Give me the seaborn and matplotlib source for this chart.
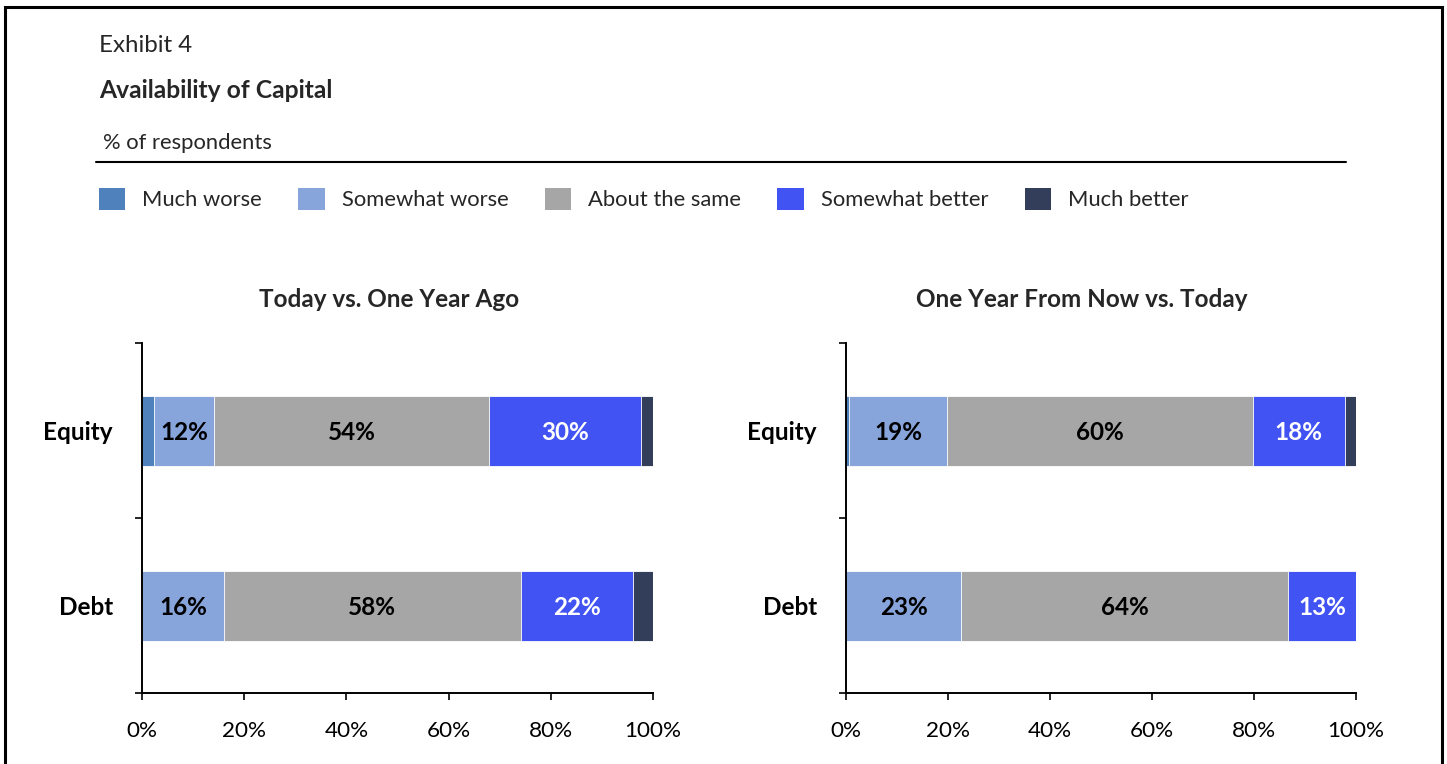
import matplotlib as mpl
import matplotlib.pyplot as plt
import numpy as np
import seaborn as sns
from matplotlib.patches import Patch, Rectangle

categories = ["Equity", "Debt"]
series = ["Much worse", "Somewhat worse", "About the same", "Somewhat better", "Much better"]
colors = ["#4F81BD", "#87A5DB", "#A6A6A6", "#4153F2", "#323E5A"]
label_colors = ["white", "black", "black", "white", "white"]

# Today vs. One Year Ago (Equity, Debt)
past_much_worse = [2.4, 0.0]
past_somewhat_worse = [11.6, 16.0]
past_same = [54.0, 58.1]
past_somewhat_better = [29.6, 21.9]
past_much_better = [2.4, 4.0]

# One Year From Now vs. Today (Equity, Debt)
future_much_worse = [0.6, 0.0]
future_somewhat_worse = [19.2, 22.6]
future_same = [60.0, 64.1]
future_somewhat_better = [18.0, 13.3]
future_much_better = [2.4, 0.0]

x_ticks = [0, 20, 40, 60, 80, 100]
x_tick_labels = ["0%", "20%", "40%", "60%", "80%", "100%"]

W, H = 1447, 764


def set_style() -> None:
    sns.set_theme(style="white")
    mpl.rcParams.update(
        {
            "font.family": ["Lato", "DejaVu Sans"],
            "font.size": 15,
            "axes.spines.top": False,
            "axes.spines.right": False,
            "axes.edgecolor": "black",
            "axes.linewidth": 1.4,
            "xtick.color": "black",
            "ytick.color": "black",
        }
    )


def draw_panel(ax, values, title, title_x) -> None:
    vals = np.array(values)
    cum = np.cumsum(vals, axis=0)
    # draw cumulative bars longest first so each segment shows through
    for i in reversed(range(len(series))):
        sns.barplot(
            x=cum[i], y=categories, orient="h", color=colors[i], saturation=1,
            width=0.4, ax=ax, edgecolor="white", linewidth=0.6,
        )
    starts = cum - vals
    for i in range(len(series)):
        for j in range(len(categories)):
            v = vals[i, j]
            if v >= 5:
                ax.text(starts[i, j] + v / 2, j, f"{v:.0f}%", ha="center", va="center_baseline",
                        fontsize=17.5, fontweight="bold", color=label_colors[i])
    ax.set_xlim(0, 100)
    ax.set_ylim(1.5, -0.5)
    ax.set_xticks(x_ticks)
    ax.set_xticklabels(x_tick_labels, fontsize=16.2)
    ax.set_yticks([0, 1])
    ax.set_yticklabels(categories, fontsize=17.5, fontweight="bold")
    for lab in ax.get_yticklabels():
        lab.set_va("center_baseline")
    ax.set_yticks([-0.5, 0.5, 1.5], minor=True)
    ax.tick_params(axis="y", which="major", length=0, pad=21)
    ax.tick_params(axis="y", which="minor", left=True, length=5, width=1.2, direction="out")
    ax.tick_params(axis="x", bottom=True, length=5, width=1.2, direction="out", pad=15)
    ax.set_xlabel("")
    ax.set_ylabel("")
    ax.set_title(title, fontsize=17.5, fontweight="bold", x=title_x, pad=26)


def main() -> None:
    set_style()
    fig = plt.figure(figsize=(W / 100, H / 100), dpi=100)
    ax1 = fig.add_axes([142 / W, 1 - 693 / H, 511 / W, 350 / H])
    ax2 = fig.add_axes([846 / W, 1 - 693 / H, 510 / W, 350 / H])

    draw_panel(ax1, [past_much_worse, past_somewhat_worse, past_same,
                     past_somewhat_better, past_much_better],
               "Today vs. One Year Ago", 0.483)
    draw_panel(ax2, [future_much_worse, future_somewhat_worse, future_same,
                     future_somewhat_better, future_much_better],
               "One Year From Now vs. Today", 0.463)

    fig.text(99 / W, 1 - 45 / H, "Exhibit 4", fontsize=17.3, va="center", ha="left")
    fig.text(99 / W, 1 - 91 / H, "Availability of Capital", fontsize=17.7,
             fontweight="bold", va="center", ha="left")
    fig.text(103 / W, 1 - 143 / H, "% of respondents", fontsize=15.8, va="center", ha="left")
    fig.add_artist(plt.Line2D([96 / W, 1346 / W], [1 - 162 / H, 1 - 162 / H],
                              color="black", lw=1.5, transform=fig.transFigure))

    handles = [Patch(facecolor=c, edgecolor="none", label=s) for c, s in zip(colors, series)]
    fig.legend(handles=handles, loc="center left", bbox_to_anchor=(99 / W, 1 - 199 / H),
               ncol=5, frameon=False, fontsize=15.8, borderpad=0, borderaxespad=0,
               handlelength=1.19, handleheight=1.19, handletextpad=0.78, columnspacing=1.66)

    fig.add_artist(Rectangle((5 / W, -0.05), 1437 / W, 1.05 - 7 / H, fill=False,
                             edgecolor="black", lw=2.2, transform=fig.transFigure))

    fig.savefig("out.png", dpi=100)
    plt.close(fig)


if __name__ == "__main__":
    main()
